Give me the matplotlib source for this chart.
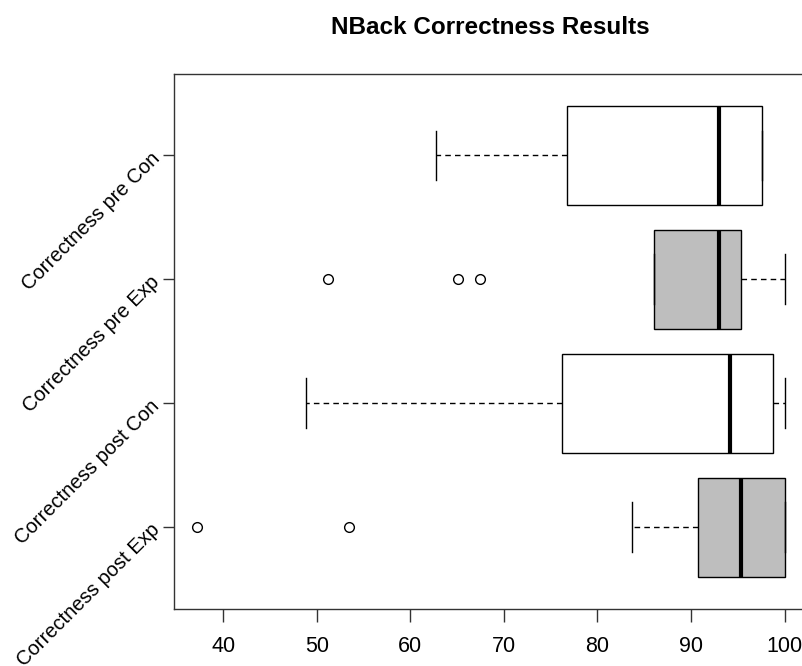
import matplotlib
matplotlib.use("Agg")
import matplotlib.pyplot as plt

plt.rcParams["font.family"] = ["Liberation Sans", "DejaVu Sans"]

# Groups, bottom to top
labels = ["Correctness post Exp", "Correctness post Con",
          "Correctness pre Exp", "Correctness pre Con"]
whisker_low = [83.7, 48.9, 86.0, 62.8]
q1 = [90.7, 76.2, 86.0, 76.8]
median = [95.3, 94.2, 93.0, 93.0]
q3 = [100.0, 98.8, 95.3, 97.6]
whisker_high = [100.0, 100.0, 100.0, 97.6]
outliers = [[37.2, 53.5], [], [51.2, 65.1, 67.4], []]
box_colors = ["#BEBEBE", "white", "#BEBEBE", "white"]
xticks = [40, 50, 60, 70, 80, 90, 100]

stats = []
for i, lab in enumerate(labels):
    stats.append(dict(label=lab, whislo=whisker_low[i], q1=q1[i], med=median[i],
                      q3=q3[i], whishi=whisker_high[i], fliers=outliers[i]))

fig = plt.figure(figsize=(8.02, 6.66), dpi=100)
ax = fig.add_axes([173.5 / 802, 57 / 666, (808 - 173.5) / 802, (609 - 73.5) / 666])

positions = list(range(1, len(labels) + 1))
bp = ax.bxp(stats, positions=positions, vert=False, widths=0.8, capwidths=0.4,
            patch_artist=True, showfliers=True,
            boxprops=dict(edgecolor="black", linewidth=1.0),
            medianprops=dict(color="black", linewidth=3.0, solid_capstyle="butt"),
            whiskerprops=dict(color="black", linewidth=1.0, linestyle=(0, (4, 3))),
            capprops=dict(color="black", linewidth=1.0),
            flierprops=dict(marker="o", markerfacecolor="white",
                            markeredgecolor="black", markersize=7,
                            markeredgewidth=1.0, linestyle="none"))
for patch, col in zip(bp["boxes"], box_colors):
    patch.set_facecolor(col)

ax.set_xlim(34.69, 102.51)
ax.set_ylim(0.34, 4.66)
ax.set_xticks(xticks)
ax.set_xticklabels([str(t) for t in xticks])
ax.set_yticks(positions)
ax.set_yticklabels(labels, rotation=45, ha="right", va="center",
                   rotation_mode="anchor")
ax.tick_params(axis="both", width=1.0, color="#333333")
ax.tick_params(axis="x", labelsize=15.5, length=9.4, pad=10)
ax.tick_params(axis="y", labelsize=14.5, length=8, pad=4)
for sp in ax.spines.values():
    sp.set_linewidth(1.0)
    sp.set_color("#333333")

fig.text(490 / 802, 1 - 27 / 666, "NBack Correctness Results", ha="center",
         va="center", fontsize=17.5, fontweight="bold")

fig.savefig("out.png", dpi=100)
